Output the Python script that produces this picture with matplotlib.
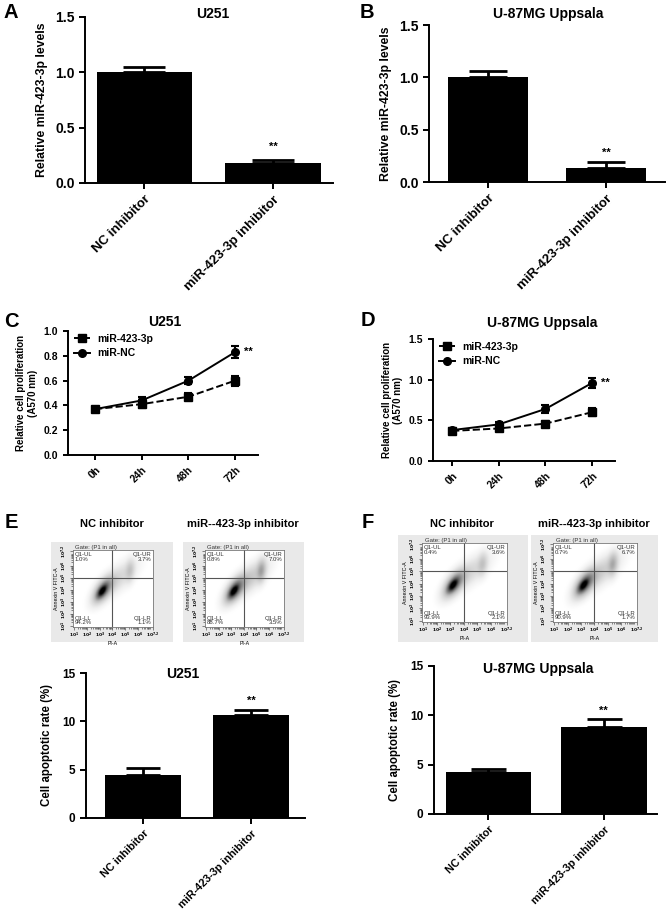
import numpy as np
import matplotlib
matplotlib.use('Agg')
import matplotlib.pyplot as plt
from matplotlib.patches import Rectangle
from matplotlib.lines import Line2D

plt.rcParams['font.family'] = ['Liberation Sans', 'DejaVu Sans']
plt.rcParams['font.weight'] = 'bold'
plt.rcParams['axes.labelweight'] = 'bold'
plt.rcParams['axes.titleweight'] = 'bold'
plt.rcParams['axes.linewidth'] = 1.4

W, H = 669, 909

# ---------------------------------------------------------------------------
# data
# ---------------------------------------------------------------------------
groups = ["NC inhibitor", "miR-423-3p inhibitor"]

# A / B: relative miR-423-3p levels
mir_u251 = [1.00, 0.18]
mir_u251_err = [0.05, 0.03]
mir_u87 = [1.00, 0.13]
mir_u87_err = [0.06, 0.06]

# C / D: proliferation (A570)
times = ["0h", "24h", "48h", "72h"]
prol_u251_mir = [0.37, 0.41, 0.47, 0.60]
prol_u251_mir_err = [0.02, 0.03, 0.03, 0.04]
prol_u251_nc = [0.37, 0.44, 0.60, 0.83]
prol_u251_nc_err = [0.02, 0.03, 0.03, 0.05]
prol_u87_mir = [0.37, 0.40, 0.46, 0.60]
prol_u87_mir_err = [0.02, 0.02, 0.03, 0.05]
prol_u87_nc = [0.38, 0.45, 0.64, 0.96]
prol_u87_nc_err = [0.02, 0.03, 0.05, 0.06]

# E / F: apoptosis rate (%)
apop_u251 = [4.5, 10.7]
apop_u251_err = [0.7, 0.5]
apop_u87 = [4.3, 8.8]
apop_u87_err = [0.3, 0.8]

# flow quadrant percentages: UL, UR, LL, LR
quad_e_nc = ["1.0%", "3.7%", "94.2%", "1.1%"]
quad_e_mir = ["0.8%", "7.0%", "88.7%", "3.5%"]
quad_f_nc = ["0.4%", "3.6%", "93.9%", "2.1%"]
quad_f_mir = ["0.7%", "6.7%", "90.9%", "1.7%"]

# rough shape of the event clouds (log units): core, halo, spread, late-apoptotic
blob_cx = [3.2, 3.3, 4.4, 5.4]
blob_cy = [3.9, 4.0, 4.9, 5.6]
blob_sx = [0.22, 0.45, 0.85, 0.22]
blob_sy = [0.30, 0.60, 0.85, 0.55]
blob_rho = [0.6, 0.6, 0.7, 0.2]
w_e_nc = [1.0, 0.30, 0.05, 0.07]
w_e_mir = [1.0, 0.35, 0.08, 0.14]
w_f_nc = [1.0, 0.30, 0.05, 0.07]
w_f_mir = [1.0, 0.33, 0.07, 0.12]

fig = plt.figure(figsize=(W / 100, H / 100), dpi=100)


def px_axes(x0, y0, x1, y1):
    return fig.add_axes([x0 / W, 1 - y1 / H, (x1 - x0) / W, (y1 - y0) / H])


def ftext(x, y, s, **kw):
    fig.text(x / W, 1 - y / H, s, **kw)


def style(ax):
    for s in ("top", "right"):
        ax.spines[s].set_visible(False)
    ax.tick_params(direction="out", length=4, width=1.4)


def bar_panel(box, vals, errs, ylim, yticks, ytl, ylabel, xlim, width, cap,
              star_y, tick_fs, xt_fs, lab_fs, labelpad):
    ax = px_axes(*box)
    x = np.arange(len(vals))
    ax.bar(x, vals, width, color="black")
    ax.errorbar(x, vals, yerr=[[0] * len(vals), errs], fmt="none",
                ecolor="black", elinewidth=2, capsize=cap, capthick=2)
    ax.text(1, star_y, "**", ha="center", va="center", fontsize=8)
    ax.set_xlim(*xlim)
    ax.set_ylim(*ylim)
    ax.set_yticks(yticks)
    ax.set_yticklabels(ytl, fontsize=tick_fs)
    ax.set_xticks(x)
    ax.set_xticklabels(groups, rotation=45, ha="right",
                       rotation_mode="anchor", fontsize=xt_fs)
    ax.set_ylabel(ylabel, fontsize=lab_fs, labelpad=labelpad)
    style(ax)
    return ax


def line_panel(box, mir, mir_err, nc, nc_err, ylim, yticks, ytl, xlim, star_y):
    ax = px_axes(*box)
    x = np.arange(len(times))
    ax.errorbar(x, mir, yerr=mir_err, color="black", ls="--", lw=1.4,
                marker="s", ms=5.5, capsize=3, elinewidth=1.5, capthick=1.5,
                label="miR-423-3p")
    ax.errorbar(x, nc, yerr=nc_err, color="black", ls="-", lw=1.4,
                marker="o", ms=5.5, capsize=3, elinewidth=1.5, capthick=1.5,
                label="miR-NC")
    ax.text(3.18, star_y, "**", ha="left", va="center", fontsize=8)
    ax.set_xlim(*xlim)
    ax.set_ylim(*ylim)
    ax.set_yticks(yticks)
    ax.set_yticklabels(ytl, fontsize=7.5)
    ax.set_xticks(x)
    ax.set_xticklabels(times, rotation=45, ha="right",
                       rotation_mode="anchor", fontsize=7.5)
    ax.set_ylabel("Relative cell proliferation\n(A570 nm)", fontsize=7,
                  labelpad=4)
    handles = [Line2D([0], [0], color="black", ls="--", lw=1.4, marker="s",
                      ms=5.5),
               Line2D([0], [0], color="black", ls="-", lw=1.4, marker="o",
                      ms=5.5)]
    ax.legend(handles, ["miR-423-3p", "miR-NC"], loc="upper left",
              frameon=False, fontsize=7.5, handlelength=1.5,
              handletextpad=0.7, bbox_to_anchor=(0.0, 1.03),
              borderaxespad=0.2, labelspacing=0.45)
    style(ax)
    ax.tick_params(length=3.5)
    return ax


def flow_panel(outer, inner, quads, weights):
    ox0, oy0, ox1, oy1 = outer
    fig.patches.append(Rectangle((ox0 / W, 1 - oy1 / H), (ox1 - ox0) / W,
                                 (oy1 - oy0) / H, transform=fig.transFigure,
                                 facecolor="#e9e9e9", edgecolor="none",
                                 zorder=-5))
    ax = px_axes(*inner)
    ax.set_zorder(2)
    ax.set_facecolor("white")
    gx = np.linspace(0.9, 7.2, 120)
    gy = np.linspace(0.9, 7.3, 120)
    XX, YY = np.meshgrid(gx, gy)
    dens = np.zeros_like(XX)
    for cx, cy, sx, sy, r, w in zip(blob_cx, blob_cy, blob_sx, blob_sy,
                                    blob_rho, weights):
        dx = (XX - cx) / sx
        dy = (YY - cy) / sy
        q = (dx ** 2 - 2 * r * dx * dy + dy ** 2) / (1 - r ** 2)
        dens += w * np.exp(-0.5 * q)
    img = dens ** 0.4
    ax.imshow(img, origin="lower", extent=(0.9, 7.2, 0.9, 7.3),
              cmap="Greys", vmin=0.05, vmax=1.0, aspect="auto",
              interpolation="bilinear")
    ax.axvline(4.0, color="#555555", lw=0.8)
    ax.axhline(5.0, color="#555555", lw=0.8)
    ax.set_xlim(0.9, 7.2)
    ax.set_ylim(0.9, 7.3)
    ticks = [1, 2, 3, 4, 5, 6, 7.2]
    tl = [r"$10^{%s}$" % ("7.2" if t == 7.2 else int(t)) for t in ticks]
    ax.set_xticks(ticks)
    ax.set_xticklabels(tl, fontsize=3.2, fontweight="normal")
    ax.set_yticks(ticks)
    ax.set_yticklabels(tl, fontsize=3.2, fontweight="normal", rotation=90,
                       va="center")
    minor = [d + np.log10(m) for d in range(1, 7) for m in range(2, 10)]
    ax.set_xticks(minor, minor=True)
    ax.set_yticks(minor, minor=True)
    ax.tick_params(which="both", length=2, width=0.5, pad=0.8,
                   color="#555555")
    ax.tick_params(which="minor", length=1.2)
    for s in ax.spines.values():
        s.set_linewidth(0.6)
        s.set_color("#777777")
    ax.set_xlabel("PI-A", fontsize=3.8, fontweight="normal", labelpad=0.5)
    ax.set_ylabel("Annexin V FITC-A", fontsize=3.8, fontweight="normal",
                  labelpad=0.5)
    kw = dict(fontsize=4.3, fontweight="normal", color="#333333",
              transform=ax.transAxes, linespacing=0.9)
    ax.text(0.03, 1.0, "Gate: (P1 in all)", ha="left", va="bottom",
            fontsize=4.3, fontweight="normal", color="#333333",
            transform=ax.transAxes)
    ax.text(0.02, 0.97, "Q1-UL\n" + quads[0], ha="left", va="top", **kw)
    ax.text(0.98, 0.97, "Q1-UR\n" + quads[1], ha="right", va="top", **kw)
    ax.text(0.02, 0.02, "Q1-LL\n" + quads[2], ha="left", va="bottom", **kw)
    ax.text(0.98, 0.02, "Q1-LR\n" + quads[3], ha="right", va="bottom", **kw)
    return ax


# ---------------------------------------------------------------------------
# A, B
# ---------------------------------------------------------------------------
bar_panel((85, 17, 333, 183), mir_u251, mir_u251_err, (0, 1.5),
          [0, 0.5, 1.0, 1.5], ["0.0", "0.5", "1.0", "1.5"],
          "Relative miR-423-3p levels", (-0.46, 1.465), 0.74, 14.8, 0.33,
          10, 9.5, 8.8, 5)
bar_panel((429, 25, 665, 182), mir_u87, mir_u87_err, (0, 1.5),
          [0, 0.5, 1.0, 1.5], ["0.0", "0.5", "1.0", "1.5"],
          "Relative miR-423-3p levels", (-0.5, 1.5), 0.68, 13.7, 0.28,
          10, 9.5, 8.8, 5)
ftext(213, 14, "U251", ha="center", va="center", fontsize=10)
ftext(548, 14, "U-87MG Uppsala", ha="center", va="center", fontsize=10)

# ---------------------------------------------------------------------------
# C, D
# ---------------------------------------------------------------------------
line_panel((68, 331, 258, 455), prol_u251_mir, prol_u251_mir_err,
           prol_u251_nc, prol_u251_nc_err, (0, 1.0),
           [0, 0.2, 0.4, 0.6, 0.8, 1.0],
           ["0.0", "0.2", "0.4", "0.6", "0.8", "1.0"], (-0.58, 3.49), 0.83)
line_panel((433, 339, 615, 461), prol_u87_mir, prol_u87_mir_err,
           prol_u87_nc, prol_u87_nc_err, (0, 1.5),
           [0, 0.5, 1.0, 1.5], ["0.0", "0.5", "1.0", "1.5"],
           (-0.41, 3.49), 0.96)
ftext(165, 322, "U251", ha="center", va="center", fontsize=10)
ftext(542, 323, "U-87MG Uppsala", ha="center", va="center", fontsize=10)

# ---------------------------------------------------------------------------
# E, F flow plots
# ---------------------------------------------------------------------------
flow_panel((51, 542, 173, 642), (73, 550, 153, 627), quad_e_nc, w_e_nc)
flow_panel((183, 542, 304, 642), (205, 550, 284, 627), quad_e_mir, w_e_mir)
flow_panel((398, 535, 528, 642), (422, 543, 507, 622), quad_f_nc, w_f_nc)
flow_panel((531, 535, 658, 642), (553, 543, 637, 622), quad_f_mir, w_f_mir)
for x, s in [(112, "NC inhibitor"), (243, "miR--423-3p inhibitor"),
             (462, "NC inhibitor"), (594, "miR--423-3p inhibitor")]:
    ftext(x, 524, s, ha="center", va="center", fontsize=8)

# ---------------------------------------------------------------------------
# E, F bars
# ---------------------------------------------------------------------------
bar_panel((86, 673, 305, 818), apop_u251, apop_u251_err, (0, 15),
          [0, 5, 10, 15], ["0", "5", "10", "15"],
          "Cell apoptotic rate (%)", (-0.53, 1.5), 0.70, 11.9, 12.1,
          8.5, 7.8, 8.3, 7)
bar_panel((434, 666, 657, 814), apop_u87, apop_u87_err, (0, 15),
          [0, 5, 10, 15], ["0", "5", "10", "15"],
          "Cell apoptotic rate (%)", (-0.47, 1.46), 0.74, 12.6, 10.5,
          8.5, 7.8, 8.3, 7)
ftext(183, 674, "U251", ha="center", va="center", fontsize=10)
ftext(538, 669, "U-87MG Uppsala", ha="center", va="center", fontsize=10)

# panel letters
for x, y, s in [(11, 13, "A"), (367, 12, "B"), (11, 322, "C"),
                (368, 321, "D"), (11, 523, "E"), (368, 522, "F")]:
    ftext(x, y, s, ha="center", va="center", fontsize=14.5)

fig.savefig("out.png", dpi=100, facecolor="white")
